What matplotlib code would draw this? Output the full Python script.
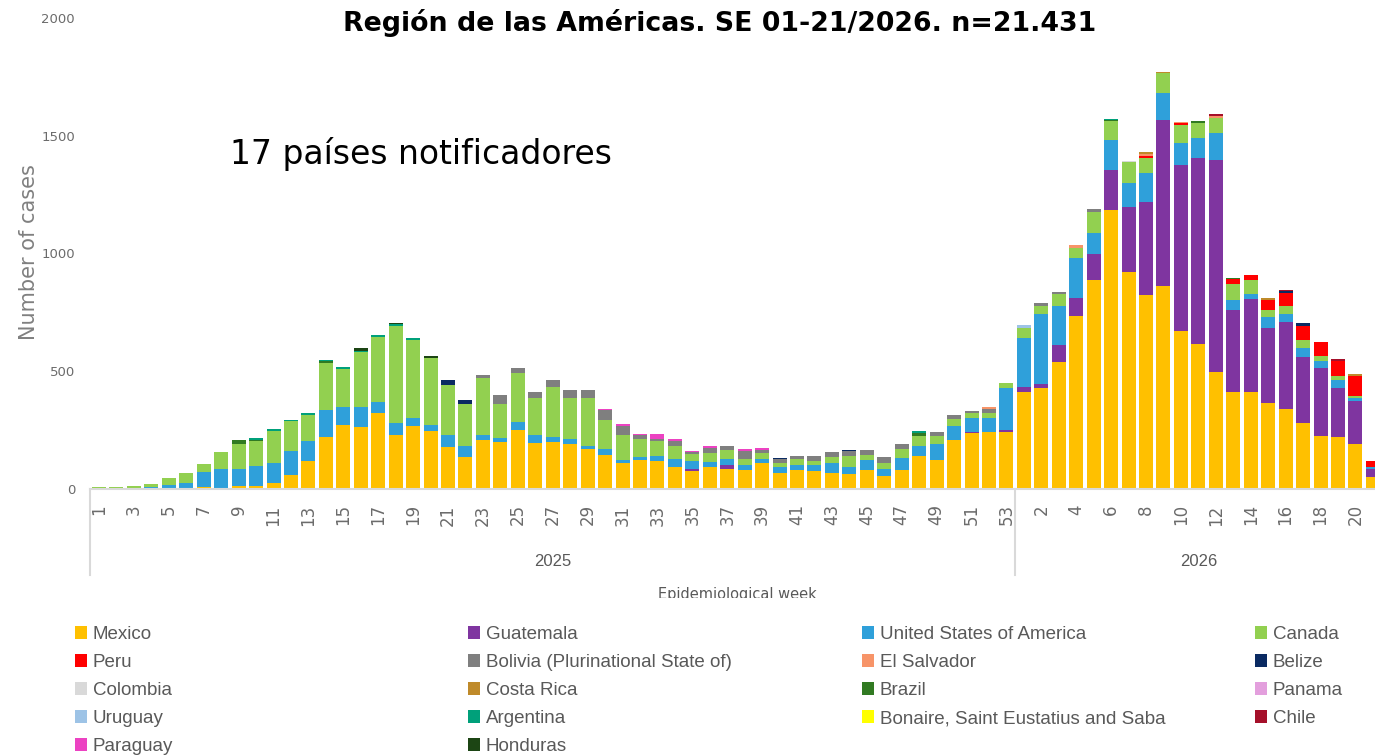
import matplotlib
matplotlib.use('Agg')
import matplotlib.pyplot as plt
from matplotlib.patches import Patch, Rectangle
from matplotlib.transforms import blended_transform_factory
import numpy as np

# weekly cases by country, 2025 SE 1-53 and 2026 SE 1-21
mexico_2025 = [0, 0, 0, 0, 3, 3, 7, 3, 13, 13,
               24, 61, 120, 219, 273, 263, 322, 230, 268, 247,
               177, 138, 209, 198, 251, 195, 198, 192, 171, 146,
               111, 125, 117, 93, 76, 93, 86, 80, 109, 69,
               79, 76, 69, 64, 79, 54, 79, 140, 124, 210,
               236, 241, 241]
mexico_2026 = [414, 427, 540, 733, 886, 1186, 922, 823, 864, 671,
               614, 497, 410, 414, 366, 339, 280, 226, 219, 191, 49]

guatemala_2025 = [0] * 34 + [8, 0, 15] + [0] * 13 + [7, 0, 8]
guatemala_2026 = [17, 18, 70, 79, 113, 169, 276, 396, 701, 706,
                  791, 898, 351, 391, 316, 370, 281, 287, 208, 181, 36]

usa_2025 = [0, 0, 0, 7, 14, 21, 64, 80, 73, 84,
            86, 101, 85, 117, 77, 87, 49, 50, 34, 23,
            53, 43, 21, 17, 33, 35, 22, 20, 13, 23,
            11, 12, 23, 35, 37, 20, 27, 22, 18, 26,
            21, 24, 40, 31, 45, 32, 54, 42, 65, 58,
            58, 60, 179]
usa_2026 = [209, 299, 165, 167, 86, 128, 101, 124, 116, 92,
            85, 116, 43, 24, 48, 33, 36, 31, 36, 16, 10]

canada_2025 = [7, 7, 13, 14, 30, 42, 35, 73, 105, 105,
               137, 125, 110, 200, 160, 233, 276, 413, 331, 285,
               212, 180, 243, 145, 207, 158, 215, 173, 201, 125,
               107, 75, 65, 56, 28, 38, 38, 25, 24, 17,
               27, 20, 28, 45, 21, 23, 35, 43, 34, 30,
               21, 20, 21]
canada_2026 = [45, 33, 51, 45, 90, 78, 89, 62, 84, 78,
               64, 64, 65, 57, 28, 35, 34, 21, 16, 5, 0]

peru_2025 = [0] * 53
peru_2026 = [0, 0, 0, 0, 0, 0, 0, 10, 0, 6,
             0, 0, 21, 22, 43, 56, 61, 61, 65, 87, 25]

bolivia_2025 = [0] * 22 + [11, 40, 22, 22, 28, 36, 36, 40,
                           40, 16, 7, 21, 7, 23, 16, 35, 16, 15,
                           14, 21, 21, 20, 22, 28, 23, 0, 17, 17,
                           10, 17, 0]
bolivia_2026 = [0, 11, 10, 0, 14] + [0] * 16

elsalvador_2025 = [0] * 51 + [11, 0]
elsalvador_2026 = [0, 0, 0, 10, 0, 0, 0, 7, 0, 5, 0, 7] + [0] * 9

belize_2025 = [0] * 20 + [21, 15] + [0] * 17 + [4, 0, 0, 0, 7] + [0] * 9
belize_2026 = [0] * 15 + [6, 14, 0, 0, 0, 0]

colombia_2025 = [0] * 53
colombia_2026 = [0] * 6 + [6] + [0] * 14

costarica_2025 = [0] * 53
costarica_2026 = [0] * 7 + [9, 7] + [0] * 5 + [11, 0, 0, 0, 0, 7, 0]

brazil_2025 = [0] * 8 + [15, 8, 0, 0, 0, 6] + [0] * 33 + [12] + [0] * 5
brazil_2026 = [0] * 5 + [6] + [0] * 4 + [9, 0, 7] + [0] * 8

panama_2025 = [0] * 53
panama_2026 = [0] * 21

uruguay_2025 = [0] * 53
uruguay_2026 = [11] + [0] * 20

argentina_2025 = [0] * 9 + [5, 8, 8, 6, 4, 7, 4, 8, 6, 9, 3] + [0] * 27 + [10] + [0] * 5
argentina_2026 = [0] * 5 + [5] + [0] * 15

bonaire_2025 = [0] * 53
bonaire_2026 = [0] * 21

chile_2025 = [0] * 53
chile_2026 = [0] * 11 + [10, 0, 0, 0, 7, 0, 0, 7, 0, 0]

paraguay_2025 = [0] * 29 + [7, 6, 7, 20, 7, 5, 8, 0, 8, 7] + [0] * 14
paraguay_2026 = [0] * 21

honduras_2025 = [0] * 15 + [10, 0, 8, 0, 7] + [0] * 33
honduras_2026 = [0] * 21

countries = ['Mexico', 'Guatemala', 'United States of America', 'Canada',
             'Peru', 'Bolivia (Plurinational State of)', 'El Salvador', 'Belize',
             'Colombia', 'Costa Rica', 'Brazil', 'Panama',
             'Uruguay', 'Argentina', 'Bonaire, Saint Eustatius and Saba', 'Chile',
             'Paraguay', 'Honduras']
series = [mexico_2025 + mexico_2026, guatemala_2025 + guatemala_2026,
          usa_2025 + usa_2026, canada_2025 + canada_2026,
          peru_2025 + peru_2026, bolivia_2025 + bolivia_2026,
          elsalvador_2025 + elsalvador_2026, belize_2025 + belize_2026,
          colombia_2025 + colombia_2026, costarica_2025 + costarica_2026,
          brazil_2025 + brazil_2026, panama_2025 + panama_2026,
          uruguay_2025 + uruguay_2026, argentina_2025 + argentina_2026,
          bonaire_2025 + bonaire_2026, chile_2025 + chile_2026,
          paraguay_2025 + paraguay_2026, honduras_2025 + honduras_2026]
colors = ['#FFC000', '#7F35A0', '#2FA0DA', '#92D050',
          '#FF0000', '#7F7F7F', '#F79468', '#0A2A62',
          '#D9D9D9', '#BF8A2A', '#317A22', '#E39FDD',
          '#9DC3E6', '#00A07A', '#FFFF00', '#A5102A',
          '#EC42C2', '#1C4514']

weeks_2025 = list(range(1, 54))
weeks_2026 = list(range(1, 22))
years = ['2025', '2026']

W, H = 1375, 755
fig = plt.figure(figsize=(W / 100, H / 100), dpi=100)
ax = fig.add_axes([90.3 / W, (H - 489) / H, 1291.3 / W, 471 / H])

x = np.arange(len(weeks_2025) + len(weeks_2026))
bottom = np.zeros(len(x))
for name, vals, c in zip(countries, series, colors):
    vals = np.array(vals, dtype=float)
    ax.bar(x, vals, bottom=bottom, width=0.8, color=c, linewidth=0, label=name)
    bottom += vals

ax.set_xlim(-0.5, len(x) - 0.5)
ax.set_ylim(0, 2000)
ax.set_yticks([0, 500, 1000, 1500, 2000])
ax.tick_params(axis='y', length=0, pad=11, labelsize=9.5, labelcolor='#6b6b6b')

# category ticks: odd weeks in 2025, even weeks in 2026
tick_pos = [i for i, w in enumerate(weeks_2025) if w % 2 == 1]
tick_lab = [str(w) for w in weeks_2025 if w % 2 == 1]
tick_pos += [len(weeks_2025) + i for i, w in enumerate(weeks_2026) if w % 2 == 0]
tick_lab += [str(w) for w in weeks_2026 if w % 2 == 0]
ax.set_xticks(tick_pos)
ax.set_xticklabels(tick_lab, rotation=90, va='top', ha='center')
ax.tick_params(axis='x', length=0, pad=11, labelsize=12, labelcolor='#6b6b6b')

for s in ['top', 'right', 'left']:
    ax.spines[s].set_visible(False)
ax.spines['bottom'].set_color('#d9d9d9')
ax.spines['bottom'].set_linewidth(1.5)

# year groups under the week labels
tr = blended_transform_factory(ax.transData, ax.transAxes)
drop = -86 / 471
for xs in [-0.5, len(weeks_2025) - 0.5]:
    ax.plot([xs, xs], [0, drop], transform=tr, color='#d9d9d9', lw=1.5, clip_on=False)
ax.text((len(weeks_2025) - 1) / 2, -73 / 471, years[0], transform=tr,
        ha='center', va='center', fontsize=12, color='#595959',
        family=['Liberation Sans Narrow', 'Liberation Sans'])
ax.text(len(weeks_2025) - 0.5 + 10.5, -73 / 471, years[1], transform=tr,
        ha='center', va='center', fontsize=12, color='#595959',
        family=['Liberation Sans Narrow', 'Liberation Sans'])

fig.text(29 / W, 1 - 252 / H, 'Number of cases', rotation=90, ha='center', va='center',
         fontsize=15, color='#808080')

xl = fig.text(737 / W, 1 - 587 / H, 'Epidemiological week', ha='center', va='top',
              fontsize=10.5, color='#595959')
xl.set_clip_path(Rectangle((0, (H - 598) / H), 1, 598 / H, transform=fig.transFigure))

fig.text(720 / W, 1 - 31 / H, 'Región de las Américas. SE 01-21/2026. n=21.431',
         ha='center', va='baseline', fontsize=19.3, fontweight='bold', family='DejaVu Sans')
fig.text(230 / W, 1 - 164 / H, '17 países notificadores', ha='left', va='baseline',
         fontsize=23.8, family='DejaVu Sans')

# legend: 4 columns laid out row by row
handles = [Patch(facecolor=c, edgecolor='none') for c in colors]
col_x = [75, 468, 862, 1255]
for k in range(4):
    idx = list(range(k, len(countries), 4))
    fig.legend([handles[i] for i in idx], [countries[i] for i in idx],
               loc='upper left', bbox_to_anchor=(col_x[k] / W, 1 - 626 / H),
               frameon=False, borderpad=0, borderaxespad=0,
               handlelength=0.65, handleheight=0.7, handletextpad=0.3,
               labelspacing=0.58, labelcolor='#595959',
               prop={'family': ['Liberation Sans Narrow', 'Liberation Sans'], 'size': 13.5})

fig.savefig('out.png', dpi=100)
